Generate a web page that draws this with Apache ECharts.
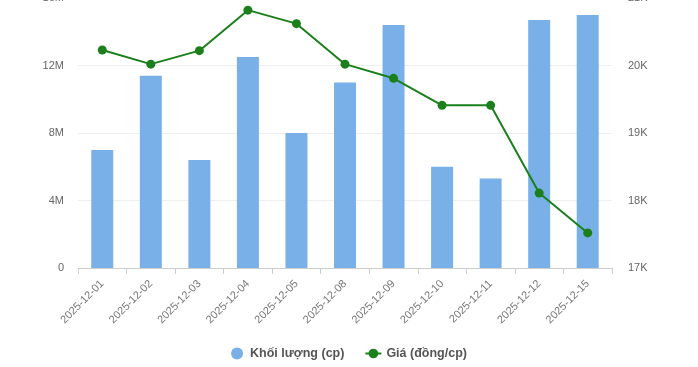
<!DOCTYPE html>
<html><head><meta charset="utf-8">
<script src="https://cdn.jsdelivr.net/npm/echarts@6/dist/echarts.min.js"></script>
<style>html,body{margin:0;padding:0;background:#fff}#c{width:698px;height:367px}</style>
</head><body><div id="c"></div>
<script>
var categories = ['2025-12-01','2025-12-02','2025-12-03','2025-12-04','2025-12-05','2025-12-08','2025-12-09','2025-12-10','2025-12-11','2025-12-12','2025-12-15'];
var volume = [7000000, 11400000, 6400000, 12500000, 8000000, 11000000, 14400000, 6000000, 5300000, 14700000, 15000000];
var price = [20230, 20020, 20220, 20820, 20620, 20020, 19810, 19410, 19410, 18110, 17520];
var volumeTicks = [0, 4000000, 8000000, 12000000, 16000000];
var priceTicks = [17000, 18000, 19000, 20000, 21000];

var chart = echarts.init(document.getElementById('c'));
chart.setOption({
  animation: false,
  backgroundColor: '#fff',
  textStyle: {fontFamily: 'Arial, Liberation Sans, sans-serif'},
  legend: {
    bottom: 2, left: 'center', itemGap: 20, itemWidth: 16, itemHeight: 12,
    textStyle: {color: '#555', fontSize: 12.5, fontWeight: 'bold'},
    data: [
      {name: 'Khối lượng (cp)', icon: 'circle'},
      {name: 'Giá (đồng/cp)'}
    ]
  },
  grid: {left: 78, right: 86, top: -2, bottom: 99, outerBoundsMode: 'none', containLabel: false},
  xAxis: {
    type: 'category', data: categories,
    axisLine: {lineStyle: {color: '#ccc'}},
    axisTick: {show: true, lineStyle: {color: '#ccc'}, length: 6},
    axisLabel: {rotate: 45, color: '#777', fontSize: 11, margin: 14}
  },
  yAxis: [
    {type: 'value', min: volumeTicks[0], max: volumeTicks[volumeTicks.length-1], interval: 4000000,
     axisLine: {show: false}, axisTick: {show: false},
     splitLine: {lineStyle: {color: '#eee'}},
     axisLabel: {color: '#666', fontSize: 11, margin: 14, formatter: function(v){return v===0?'0':(v/1000000)+'M';}}},
    {type: 'value', min: priceTicks[0], max: priceTicks[priceTicks.length-1], interval: 1000,
     axisLine: {show: false}, axisTick: {show: false}, splitLine: {show: false},
     axisLabel: {color: '#666', fontSize: 11, margin: 16, formatter: function(v){return (v/1000)+'K';}}}
  ],
  series: [
    {name: 'Khối lượng (cp)', type: 'bar', data: volume, yAxisIndex: 0, barWidth: 22,
     itemStyle: {color: '#79b0e8'}},
    {name: 'Giá (đồng/cp)', type: 'line', data: price, yAxisIndex: 1,
     symbol: 'circle', symbolSize: 9, lineStyle: {color: '#1b801b', width: 2},
     itemStyle: {color: '#1b801b'}}
  ]
});
</script></body></html>
